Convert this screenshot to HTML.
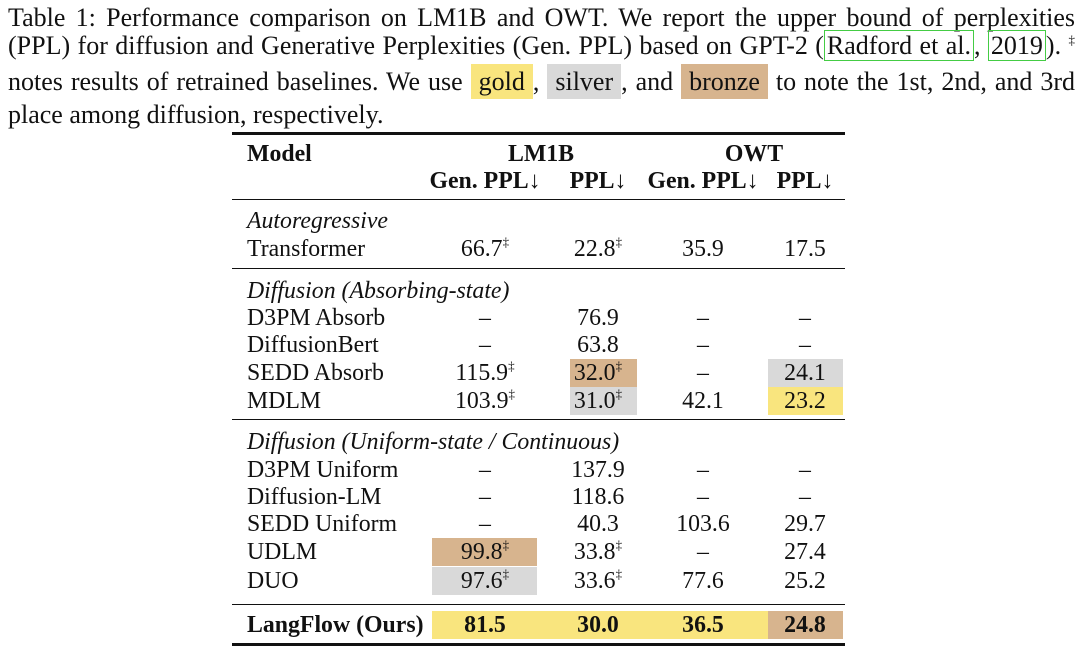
<!DOCTYPE html>
<html><head><meta charset="utf-8"><style>
body{margin:0;width:1080px;height:655px;background:#fff;font-family:"Liberation Serif",serif;color:#111;position:relative;overflow:hidden}
.ln{position:absolute;left:8px;width:1067px;font-size:26px;white-space:nowrap;text-align:justify;text-align-last:justify;line-height:28px}
.bx{display:inline-block;padding:2px 8px;line-height:31px}
.cite{border:1px solid #4c4;padding:0 2px}
.rule{position:absolute;left:232px;width:613px;background:#111}
.t{position:absolute;font-size:23.8px;line-height:26px;white-space:nowrap}
.c{transform:translateX(-50%)}
.hl{position:absolute}
sup{font-size:13px;vertical-align:10px;line-height:0}
b{font-weight:bold}
</style></head><body>
<div class="ln" style="top:4px">Table 1: Performance comparison on LM1B and OWT. We report the upper bound of perplexities</div>
<div class="ln" style="top:32px">(PPL) for diffusion and Generative Perplexities (Gen. PPL) based on GPT-2 (<span class="cite">Radford&nbsp;et&nbsp;al.</span>, <span class="cite">2019</span>). <sup>‡</sup></div>
<div class="ln" style="top:64px">notes results of retrained baselines. We use <span class="bx" style="background:#f9e57e">gold</span>, <span class="bx" style="background:#d9d9d9">silver</span>, and <span class="bx" style="background:#d7b48e">bronze</span> to note the 1st, 2nd, and 3rd</div>
<div class="ln" style="top:101px;text-align-last:left">place among diffusion, respectively.</div>
<div id="tbl"></div>
<script>
const cols=[485,598,703,805];
const rows=[
 ["Autoregressive",221,null,true],
 ["Transformer",249,["66.7‡","22.8‡","35.9","17.5"]],
 ["Diffusion (Absorbing-state)",291,null,true],
 ["D3PM Absorb",318,["–","76.9","–","–"]],
 ["DiffusionBert",345,["–","63.8","–","–"]],
 ["SEDD Absorb",373,["115.9‡","32.0‡","–","24.1"]],
 ["MDLM",401,["103.9‡","31.0‡","42.1","23.2"]],
 ["Diffusion (Uniform-state / Continuous)",442,null,true],
 ["D3PM Uniform",470,["–","137.9","–","–"]],
 ["Diffusion-LM",497,["–","118.6","–","–"]],
 ["SEDD Uniform",524,["–","40.3","103.6","29.7"]],
 ["UDLM",552,["99.8‡","33.8‡","–","27.4"]],
 ["DUO",581,["97.6‡","33.6‡","77.6","25.2"]],
 ["LangFlow (Ours)",625,["81.5","30.0","36.5","24.8"],false,true]
];
const highlights=[[5,1,"#d7b48e"],[5,3,"#d9d9d9"],[6,1,"#d9d9d9"],[6,3,"#f9e57e"],[11,0,"#d7b48e"],[12,0,"#d9d9d9"],[13,0,"#f9e57e"],[13,1,"#f9e57e"],[13,2,"#f9e57e"],[13,3,"#d7b48e"]];
const colEdges=[[432,537],[570,637],[637,768],[768,843]];
const wideEdges=[[432,537],[537,661],[661,768],[768,843]];
const T=document.getElementById('tbl');
function add(html,cls,st){const d=document.createElement('div');d.className=cls;d.style.cssText=st;d.innerHTML=html;T.appendChild(d);return d;}
highlights.forEach(h=>{const r=rows[h[0]];const e=(h[0]===13?wideEdges:colEdges)[h[1]];
 const d=add('','hl',`left:${e[0]}px;width:${e[1]-e[0]}px;top:${r[1]-14}px;height:28px;background:${h[2]}`);
 
 });
[[132,2.5],[199,1.2],[268,1.2],[419,1.2],[604,1.2],[643,2.5]].forEach(r=>{const d=add('','rule',`top:${r[0]}px;height:${r[1]}px`);
 
 });
let d=add('<b>Model</b>','t',`left:247px;top:141px`);


[["LM1B",541],["OWT",754]].forEach(g=>{const e=add('<b>'+g[0]+'</b>','t c',`left:${g[1]}px;top:141px`);
 
 });
["Gen. PPL↓","PPL↓","Gen. PPL↓","PPL↓"].forEach((s,i)=>{const e=add('<b>'+s+'</b>','t c',`left:${cols[i]}px;top:168px`);
 
 });
rows.forEach(r=>{
 const lab=r[3]?'<i>'+r[0]+'</i>':(r[4]?'<b>'+r[0]+'</b>':r[0]);
 const e=add(lab,'t',`left:247px;top:${r[1]-13}px`);
 
 
 if(r[2])r[2].forEach((v,i)=>{let h=v.replace('‡','<sup>‡</sup>');if(r[4])h='<b>'+h+'</b>';
  const c=add(h,'t c',`left:${cols[i]}px;top:${r[1]-13}px`);
  
  });
});
</script>
</body></html>
